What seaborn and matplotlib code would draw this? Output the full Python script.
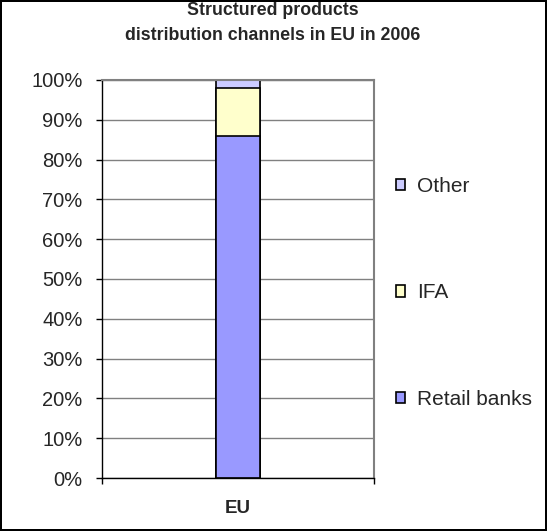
import pandas as pd
import seaborn as sns
import matplotlib.pyplot as plt
from matplotlib.patches import Patch

# chart values (share of distribution, %)
regions = ["EU"]
channels = ["Retail banks", "IFA", "Other"]
shares = [86, 12, 2]
colors = ["#9999FF", "#FFFFCC", "#CCCCFF"]
yticks = list(range(0, 101, 10))
title = "Structured products\ndistribution channels in EU in 2006"


def draw_chart():
    sns.set_style("white")
    plt.rcParams["font.family"] = ["Liberation Sans", "DejaVu Sans"]

    fig = plt.figure(figsize=(5.47, 5.31), dpi=100, edgecolor="black", linewidth=1.5)
    ax = fig.add_axes([102 / 547, 1 - 478 / 531, 272 / 547, 398 / 531])

    # stacked bar: draw cumulative totals from the top layer down
    df = pd.DataFrame({"channel": channels, "share": shares})
    df["cum"] = df["share"].cumsum()
    for i in reversed(range(len(channels))):
        sns.barplot(x=regions, y=[df["cum"][i]], color=colors[i], width=0.165,
                    edgecolor="black", linewidth=1.2, saturation=1, ax=ax)

    ax.set_xlim(-0.5, 0.5)
    ax.set_ylim(0, 100)
    ax.set_yticks(yticks)
    ax.set_yticklabels([f"{t}%" for t in yticks], fontsize=14.5)
    ax.yaxis.grid(True, color="#808080", linewidth=1)
    ax.set_axisbelow(True)
    ax.tick_params(axis="y", left=True, length=4.5, color="black", width=1, pad=9.4)
    ax.set_xticks([0])
    ax.set_xticklabels(regions, fontsize=13.5, fontweight="bold")
    ax.set_xticks([-0.5, 0.5], minor=True)
    ax.tick_params(axis="x", which="major", length=0, pad=16)
    ax.tick_params(axis="x", which="minor", length=4.5, color="black", width=1, bottom=True)
    ax.set_xlabel("")
    ax.set_ylabel("")

    for side in ["left", "bottom"]:
        ax.spines[side].set_color("black")
        ax.spines[side].set_linewidth(1)
    for side in ["top", "right"]:
        ax.spines[side].set_color("#808080")
        ax.spines[side].set_linewidth(1.5)

    fig.text(272.5 / 547, 1 - 23 / 531, title, ha="center", va="center",
             fontsize=12.8, fontweight="bold", linespacing=1.55)

    handles = [Patch(facecolor=colors[i], edgecolor="black", linewidth=1.2)
               for i in reversed(range(len(channels)))]
    ax.legend(handles, list(reversed(channels)), loc="center left",
              bbox_to_anchor=(294 / 272, 0.465), frameon=False, fontsize=15,
              handlelength=0.45, handleheight=0.45, handletextpad=0.55,
              labelspacing=4.2, borderaxespad=0, borderpad=0)

    fig.savefig("out.png", dpi=100, edgecolor=fig.get_edgecolor())


if __name__ == "__main__":
    draw_chart()
